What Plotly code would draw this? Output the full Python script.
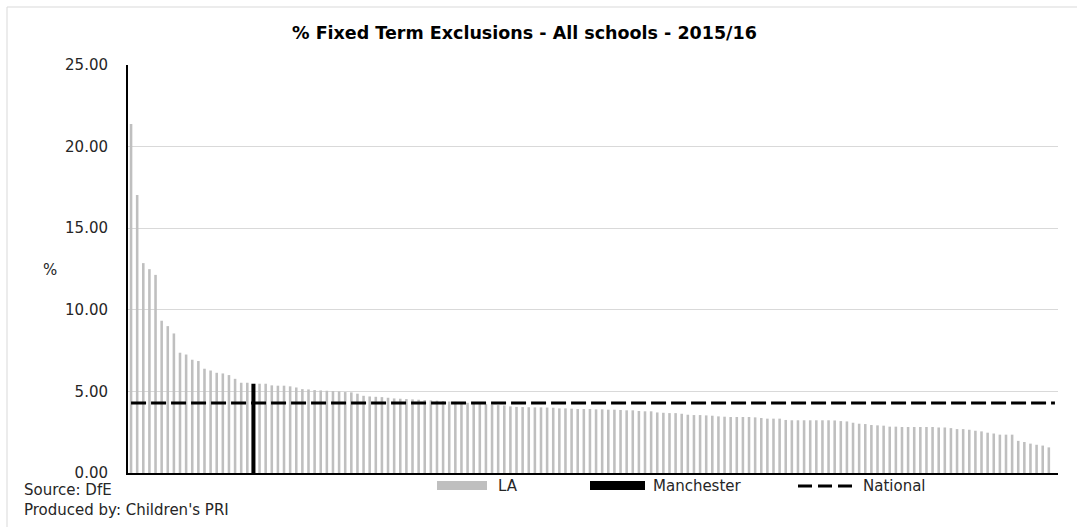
import plotly.graph_objects as go

# ---------------- data ----------------
la_values = [
    21.39, 17.04, 12.86, 12.49, 12.14, 9.33, 9.00, 8.55, 7.37, 7.26,
    6.94, 6.86, 6.39, 6.28, 6.14, 6.10, 6.00, 5.77, 5.53, 5.53,
    5.47, 5.47, 5.37, 5.35, 5.35, 5.31, 5.24, 5.14, 5.12, 5.08,
    5.06, 5.04, 5.02, 5.00, 4.96, 4.94, 4.86, 4.73, 4.69, 4.67,
    4.65, 4.61, 4.57, 4.55, 4.53, 4.51, 4.49, 4.47, 4.45, 4.43,
    4.41, 4.38, 4.36, 4.33, 4.30, 4.28, 4.25, 4.22, 4.19, 4.16,
    4.14, 4.08, 4.05, 4.04, 4.03, 4.02, 4.02, 4.01, 4.00, 3.96,
    3.96, 3.94, 3.92, 3.92, 3.92, 3.90, 3.90, 3.88, 3.88, 3.86,
    3.84, 3.84, 3.80, 3.78, 3.78, 3.71, 3.69, 3.67, 3.67, 3.63,
    3.57, 3.55, 3.55, 3.53, 3.51, 3.47, 3.45, 3.43, 3.43, 3.43,
    3.43, 3.41, 3.37, 3.33, 3.33, 3.33, 3.25, 3.23, 3.23, 3.23,
    3.23, 3.23, 3.23, 3.23, 3.22, 3.18, 3.16, 3.08, 3.02, 3.00,
    2.94, 2.92, 2.90, 2.84, 2.84, 2.82, 2.82, 2.82, 2.82, 2.82,
    2.82, 2.79, 2.79, 2.75, 2.69, 2.69, 2.65, 2.59, 2.55, 2.47,
    2.42, 2.35, 2.35, 2.35, 1.97, 1.90, 1.80, 1.73, 1.68, 1.57,
]
manchester_rank = 21          # 1-based position in the ranking
manchester_value = 5.47
national_value = 4.29
n_categories = 152            # one category at the end has no value
y_ticks = [0, 5, 10, 15, 20, 25]

# ---------------- derived positions ----------------
ranks = list(range(1, n_categories + 1))
la_x = [r for r in ranks if r != manchester_rank][: len(la_values)]

FONT = "DejaVu Sans"
TXT = "#262626"

fig = go.Figure()
fig.add_trace(go.Bar(x=la_x, y=la_values, width=0.42, marker=dict(color="#BFBFBF", line_width=0),
                     name="LA", showlegend=False))
fig.add_trace(go.Bar(x=[manchester_rank], y=[manchester_value], width=0.66,
                     marker=dict(color="#000000", line_width=0), name="Manchester", showlegend=False))
fig.add_trace(go.Scatter(x=ranks, y=[national_value] * len(ranks), mode="lines",
                         line=dict(color="#000000", width=3, dash="15px,5px"),
                         name="National", showlegend=False))

W, H = 1077, 527
L, R, T, B = 128, 19, 65, 54
pw, ph = W - L - R, H - T - B


def px(xpix):
    return (xpix - L) / pw


def py(ypix):
    return (H - B - ypix) / ph


shapes = []
annotations = []
# chart-area border (left and top edges visible)
shapes.append(dict(type="line", xref="paper", yref="paper", x0=px(7), x1=px(7), y0=py(7), y1=py(530),
                   line=dict(color="#D9D9D9", width=1)))
shapes.append(dict(type="line", xref="paper", yref="paper", x0=px(7), x1=px(1080), y0=py(7), y1=py(7),
                   line=dict(color="#D9D9D9", width=1)))

# legend (manual)
ly = 486
shapes.append(dict(type="rect", xref="paper", yref="paper", x0=px(437), x1=px(487), y0=py(481), y1=py(490),
                   fillcolor="#BFBFBF", line_width=0))
shapes.append(dict(type="rect", xref="paper", yref="paper", x0=px(590), x1=px(645), y0=py(481), y1=py(490),
                   fillcolor="#000000", line_width=0))
shapes.append(dict(type="line", xref="paper", yref="paper", x0=px(798), x1=px(852), y0=py(ly), y1=py(ly),
                   line=dict(color="#000000", width=3, dash="14px,6px")))
for label, xx in [("LA", 496), ("Manchester", 651), ("National", 861)]:
    annotations.append(dict(text=label, xref="paper", yref="paper", x=px(xx), y=py(ly), xanchor="left",
                            yanchor="middle", showarrow=False, font=dict(family=FONT, size=15, color=TXT)))

# source lines
annotations.append(dict(text="Source: DfE", xref="paper", yref="paper", x=px(22), y=py(490), xanchor="left",
                        yanchor="middle", showarrow=False, font=dict(family=FONT, size=15, color=TXT)))
annotations.append(dict(text="Produced by: Children's PRI", xref="paper", yref="paper", x=px(22), y=py(510),
                        xanchor="left", yanchor="middle", showarrow=False,
                        font=dict(family=FONT, size=15, color=TXT)))
# axis title
annotations.append(dict(text="%", xref="paper", yref="paper", x=px(50), y=py(270), xanchor="center",
                        yanchor="middle", showarrow=False, font=dict(family=FONT, size=15, color=TXT)))
# title
annotations.append(dict(text="<b>% Fixed Term Exclusions - All schools - 2015/16</b>", xref="paper", yref="paper",
                        x=px(524), y=py(33), xanchor="center", yanchor="middle", showarrow=False,
                        font=dict(family=FONT, size=17.5, color="#000000")))

fig.update_layout(
    width=W, height=H,
    margin=dict(l=L, r=R, t=T, b=B, autoexpand=False),
    paper_bgcolor="white", plot_bgcolor="white",
    barmode="overlay",
    shapes=shapes, annotations=annotations,
    showlegend=False,
)
fig.update_xaxes(range=[0.5, n_categories + 0.5], showticklabels=False, ticks="", showgrid=False,
                 zeroline=False, showline=True, linecolor="#000000", linewidth=2)
fig.update_yaxes(range=[0, 25], tickvals=y_ticks, ticktext=[f"{v:.2f}" for v in y_ticks],
                 showgrid=True, gridcolor="#D9D9D9", gridwidth=1, zeroline=False,
                 showline=True, linecolor="#000000", linewidth=2, ticks="",
                 ticklabelstandoff=15, tickfont=dict(family=FONT, size=15, color=TXT))

fig.write_html("out.html")
